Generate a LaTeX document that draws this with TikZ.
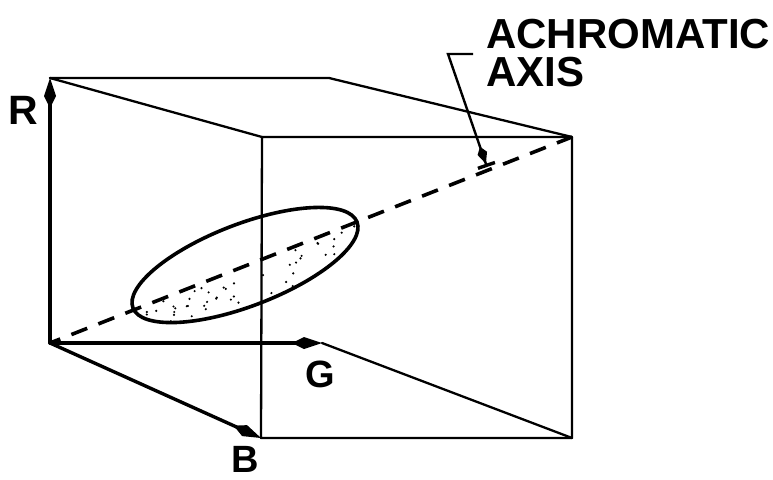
\documentclass[tikz,border=0pt]{standalone}
\usepackage{fontspec}
\setmainfont{Liberation Sans}
\usetikzlibrary{arrows.meta}
\begin{document}
\begin{tikzpicture}[x=1pt,y=-1pt,
  edge/.style={line width=2.3pt, line join=round, line cap=round},
  axisarrow/.style={line width=3.4pt, line cap=round, -{Kite[length=30pt,width=12pt,inset=12pt]}},
  diag/.style={line width=3.6pt, dash pattern=on 17pt off 12pt, dash phase=6pt},
  lbl/.style={font=\fontsize{38}{40}\selectfont\bfseries, inner sep=0pt},
  leader/.style={line width=2.4pt, line join=miter, -{Kite[length=18pt,width=10pt,inset=7pt] Bar[width=18pt,line width=3.4pt]}},
  ]
\useasboundingbox (0,0) rectangle (773,479);
% corners
\coordinate (O) at (50,343);
\coordinate (Rt) at (50,78);
\coordinate (BT) at (329,78);
\coordinate (Ge) at (322,343);
\coordinate (FTL) at (262,137);
\coordinate (FTR) at (572,137);
\coordinate (FBR) at (572,438);
\coordinate (FBL) at (261,438);
\coordinate (C) at (245,265);
% cube edges
\draw[edge] (Rt) -- (BT) -- (FTR);
\draw[edge] (Rt) -- (FTL);
\draw[edge] (FTL) -- (FTR) -- (FBR) -- (FBL) -- cycle;
\draw[edge] (Ge) -- (FBR);
% stipple in lower half of ellipse
\begin{scope}
  \clip[rotate around={21:(C)}] (C) ellipse [x radius=120, y radius=41];
  \clip (O) -- (FTR) -- (FTR |- FBR) -- (O |- FBR) -- cycle;
  \pgfmathsetseed{7}
  \foreach \i in {1,...,160}{
    \pgfmathsetmacro{\px}{130+230*rnd}
    \pgfmathsetmacro{\py}{210+115*rnd}
    \fill (\px,\py) circle (1.2);
  }
\end{scope}
% achromatic axis
\draw[diag] (O) -- (FTR);
% ellipse
\draw[line width=3.6pt, rotate around={21:(C)}] (C) ellipse [x radius=120, y radius=41];
% axes
\draw[axisarrow] (O) -- (Rt);
\draw[axisarrow] (O) -- (Ge);
\draw[axisarrow] (O) -- (FBL);
% labels
\node[lbl, font=\fontsize{41}{44}\selectfont\bfseries] (R) at (23,110) {R};
\node[lbl] (G) at (320,374) {G};
\node[lbl] (B) at (245,459) {B};
\node[inner sep=0pt, anchor=north west, align=left,
      font=\fontsize{42}{38}\selectfont\bfseries] (T) at (486,19) {ACHROMATIC\\AXIS};
% leader
\coordinate (L1) at (473,54);
\coordinate (L2) at (448,54);
\coordinate (L3) at (487,167);
\draw[leader] (L1) -- (L2) -- (L3);
\end{tikzpicture}
\end{document}
